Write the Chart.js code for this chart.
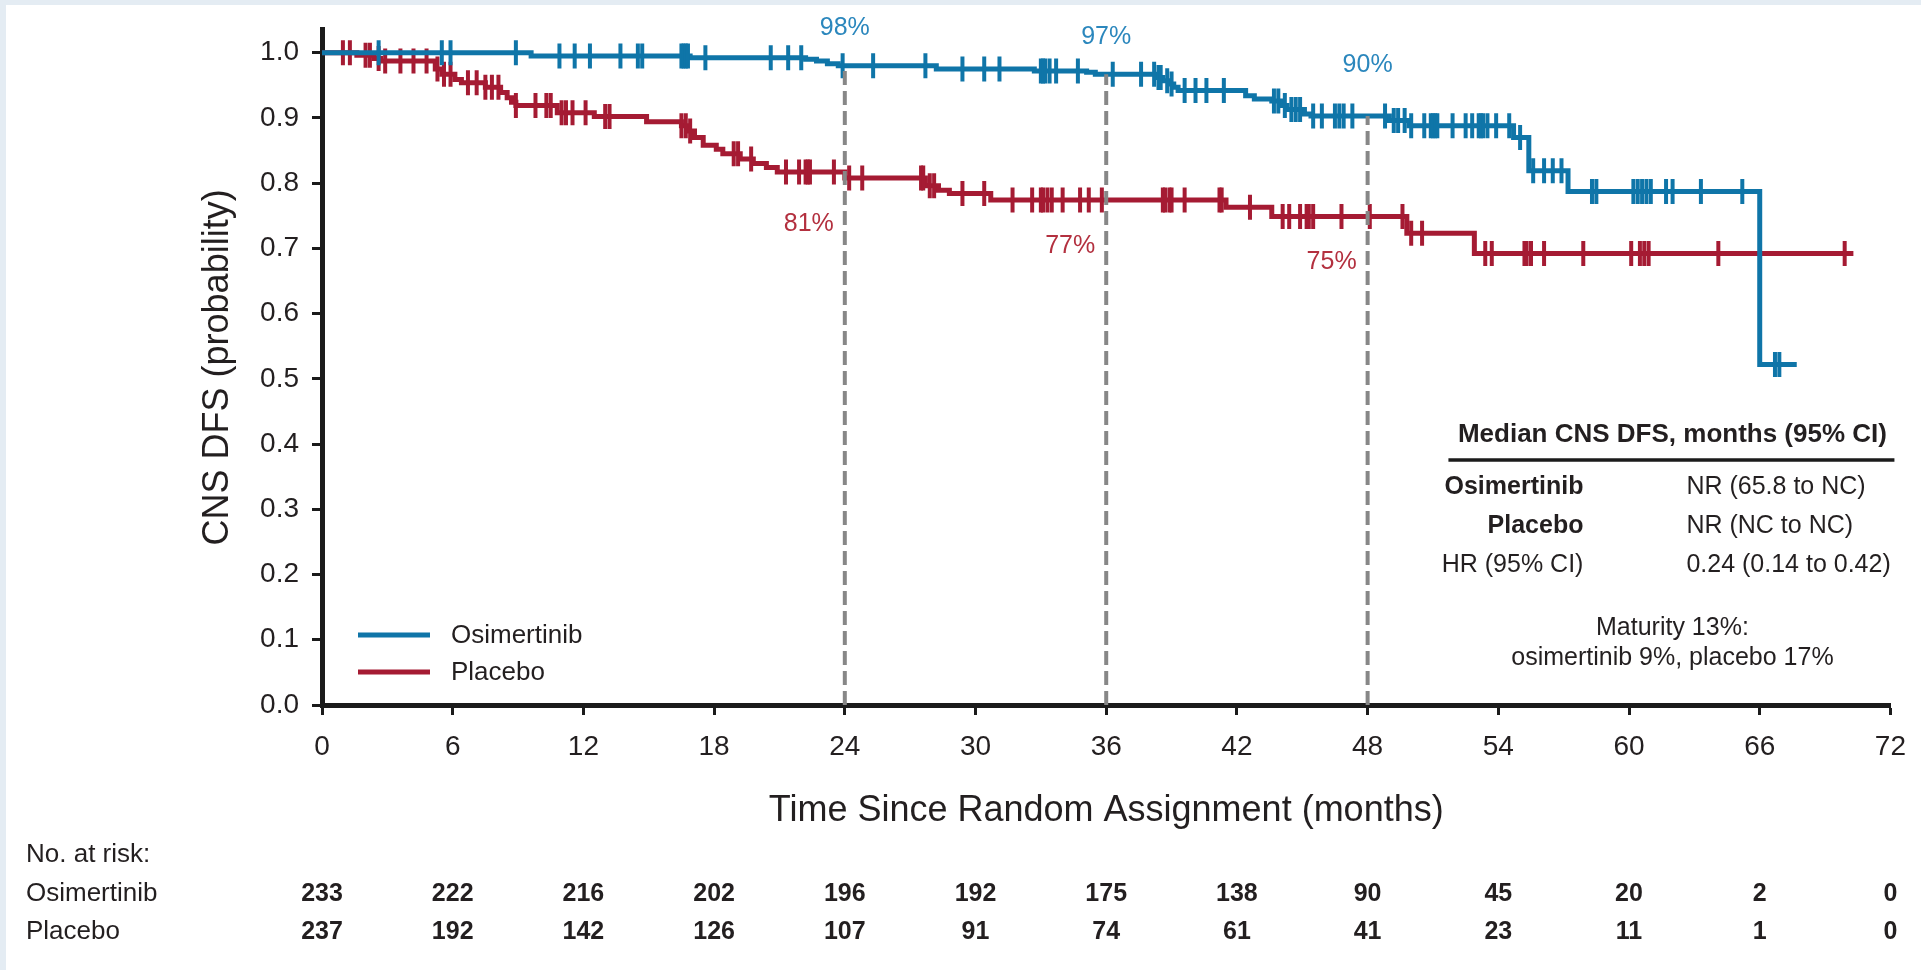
<!DOCTYPE html>
<html>
<head>
<meta charset="utf-8">
<script src="https://cdn.jsdelivr.net/npm/chart.js@4/dist/chart.umd.min.js"></script>
<style>
    html, body { margin: 0; padding: 0; background: #ffffff; overflow: hidden; }
    #km-chart { display: block; }
</style>
</head>
<body>
<canvas id="km-chart" width="1921" height="970" style="width:1921px;height:970px"></canvas>
<script>
// Kaplan-Meier steps: time of each event (months) and survival after it
const osiEventTimes = [9.6, 16.9, 22.2, 22.7, 23.2, 23.7, 28.2, 32.7, 35.1, 35.5, 38.3, 38.6, 38.9, 39.1, 39.3,
    42.4, 42.8, 43.6, 44.0, 44.3, 45.1, 45.4, 49.0, 49.9, 54.7, 55.4, 57.2, 66.0];
const osiSurvival = [0.995, 0.992, 0.990, 0.987, 0.983, 0.980, 0.975, 0.972, 0.970, 0.967, 0.962, 0.957, 0.952, 0.947, 0.942,
    0.934, 0.929, 0.926, 0.919, 0.913, 0.906, 0.903, 0.896, 0.888, 0.870, 0.819, 0.787, 0.522];
const osiLastFollowUp = 67.7;
const osiCensored = [2.6, 5.5, 5.9, 8.9, 10.9, 11.6, 12.3, 13.7, 14.5, 14.7, 16.5, 16.6, 16.7, 16.8, 17.6, 20.6, 21.4,
    22.0, 23.9, 25.3, 27.7, 29.4, 30.4, 31.1, 33.0, 33.1, 33.2, 33.4, 33.7, 34.7, 36.3, 37.6, 38.2, 38.4, 38.5, 38.8,
    39.0, 39.6, 40.1, 40.6, 41.4, 43.7, 43.9, 44.2, 44.5, 44.7, 44.9, 45.5, 45.9, 46.5, 46.7, 46.9, 47.3, 48.8, 49.2,
    49.4, 49.7, 50.0, 50.6, 50.9, 51.0, 51.1, 51.2, 51.9, 52.5, 52.8, 53.1, 53.2, 53.3, 53.5, 53.9, 54.5, 55.0, 55.6,
    56.1, 56.5, 56.9, 58.3, 58.5, 60.2, 60.4, 60.6, 60.8, 61.0, 61.7, 62.0, 63.3, 65.2, 66.7, 66.9];

const pboEventTimes = [1.6, 2.4, 2.7, 5.2, 5.5, 6.1, 6.4, 7.5, 8.2, 8.5, 8.7, 8.9, 10.8, 12.5, 14.9, 16.5, 16.8,
    17.1, 17.5, 18.1, 18.4, 19.2, 19.8, 20.4, 20.9, 24.0, 27.7, 28.3, 28.8, 30.7, 41.5, 43.6, 49.8, 52.9];
const pboSurvival = [0.996, 0.991, 0.987, 0.975, 0.967, 0.959, 0.954, 0.947, 0.939, 0.931, 0.924, 0.919, 0.908, 0.902,
    0.894, 0.888, 0.880, 0.870, 0.858, 0.852, 0.845, 0.837, 0.830, 0.824, 0.817, 0.808, 0.796, 0.789, 0.784, 0.774,
    0.763, 0.749, 0.723, 0.692];
const pboLastFollowUp = 70.3;
const pboCensored = [0.96, 1.28, 2.0, 2.2, 2.6, 2.9, 3.6, 4.2, 4.8, 5.3, 5.6, 5.9, 6.7, 7.1, 7.5, 7.8, 8.1, 8.9, 9.8,
    10.3, 10.5, 11.0, 11.2, 11.5, 12.1, 13.0, 13.2, 16.5, 16.7, 16.9, 18.9, 19.1, 19.7, 21.3, 21.9, 22.2, 22.3, 22.4,
    23.5, 24.2, 24.8, 27.5, 27.6, 27.9, 28.1, 29.4, 30.4, 31.7, 32.6, 33.0, 33.1, 33.3, 33.5, 34.0, 34.8, 35.2, 35.8,
    38.6, 38.7, 38.9, 39.0, 39.6, 41.2, 41.3, 42.6, 44.1, 44.4, 44.9, 45.2, 45.3, 45.5, 46.8, 48.1, 49.6, 50.0, 50.5,
    53.4, 53.7, 55.2, 55.3, 55.5, 56.1, 57.9, 60.1, 60.5, 60.7, 60.9, 64.1, 69.9];

const landmarkMonths = [24, 36, 48];

const riskMonths = [0, 6, 12, 18, 24, 30, 36, 42, 48, 54, 60, 66, 72];
const osiAtRisk = [233, 222, 216, 202, 196, 192, 175, 138, 90, 45, 20, 2, 0];
const pboAtRisk = [237, 192, 142, 126, 107, 91, 74, 61, 41, 23, 11, 1, 0];

const armNames = ['Osimertinib', 'Placebo'];
const medianRows = [
    ['Osimertinib', 'NR (65.8 to NC)'],
    ['Placebo', 'NR (NC to NC)'],
    ['HR (95% CI)', '0.24 (0.14 to 0.42)'],
];

const osiColor = '#0f75a8';
const pboColor = '#a51b33';
const osiLabelColor = '#2b87bd';
const pboLabelColor = '#b3303f';
const axisColor = '#1b1b1b';
const textColor = '#231f20';
const fontFamily = "'Liberation Sans', Arial, Helvetica, sans-serif";

// pixel lift of each osimertinib percentage above its curve
const osiLabelLift = [38, 37, 51];

const survivalAt = function (times, surv, t) {
    let s = 1;
    for (let i = 0; i < times.length; i++) {
        if (times[i] <= t) {
            s = surv[i];
        } else {
            break;
        }
    }
    return s;
}

const stepPoints = function (times, surv, end) {
    const pts = [{ x: 0, y: 1 }];
    times.forEach((t, i) => pts.push({ x: t, y: surv[i] }));
    pts.push({ x: end, y: surv[surv.length - 1] });
    return pts;
}

const censorPoints = function (censored, times, surv) {
    return censored.map(t => ({ x: t, y: survivalAt(times, surv, t) }));
}

const curveDataset = (label, data, color) => ({
    label,
    data,
    borderColor: color,
    borderWidth: 5,
    stepped: true,
    pointRadius: 0,
    fill: false,
});

const censorDataset = (label, data, color) => ({
    label,
    data,
    showLine: false,
    pointStyle: 'line',
    pointRotation: 90,
    pointRadius: 12.5,
    pointBorderWidth: 4,
    pointBorderColor: color,
    pointBackgroundColor: color,
});

// dashed drop lines at the landmark times, from the osimertinib curve down to the axis
const landmarkDatasets = landmarkMonths.map(t => ({
    label: `landmark ${t}`,
    data: [{ x: t, y: 0 }, { x: t, y: survivalAt(osiEventTimes, osiSurvival, t) }],
    borderColor: '#878787',
    borderWidth: 4,
    borderDash: [14, 6],
    pointRadius: 0,
    fill: false,
}));

const font = (size, weight = 'normal') => `${weight} ${size}px ${fontFamily}`;

const decorPlugin = {
    id: 'decor',
    beforeDraw(chart) {
        const c = chart.ctx;
        c.save();
        c.fillStyle = '#e4ecf3';
        c.fillRect(0, 0, chart.width, chart.height);
        c.fillStyle = '#ffffff';
        c.fillRect(6, 5, chart.width - 6, chart.height - 5);
        c.restore();
    },
    afterDraw(chart) {
        const c = chart.ctx;
        const xs = chart.scales.x;
        const ys = chart.scales.y;
        const area = chart.chartArea;
        c.save();
        c.textBaseline = 'middle';

        // landmark percentages
        c.font = font(25);
        landmarkMonths.forEach((t, i) => {
            const x = xs.getPixelForValue(t);
            const so = survivalAt(osiEventTimes, osiSurvival, t);
            const sp = survivalAt(pboEventTimes, pboSurvival, t);
            c.fillStyle = osiLabelColor;
            c.textAlign = 'center';
            c.fillText(`${Math.round(so * 100)}%`, x, ys.getPixelForValue(so) - osiLabelLift[i]);
            c.fillStyle = pboLabelColor;
            c.textAlign = 'right';
            c.fillText(`${Math.round(sp * 100)}%`, x - 11, ys.getPixelForValue(sp) + 46);
        });

        // legend
        const legendColors = [osiColor, pboColor];
        c.font = font(26);
        c.textAlign = 'left';
        armNames.forEach((name, i) => {
            const y = 635 + i * 37;
            c.strokeStyle = legendColors[i];
            c.lineWidth = 5;
            c.beginPath();
            c.moveTo(area.left + 36, y);
            c.lineTo(area.left + 108, y);
            c.stroke();
            c.fillStyle = textColor;
            c.fillText(name, area.left + 129, y + 1);
        });

        // median summary table
        const midX = area.right - 218;
        c.fillStyle = textColor;
        c.font = font(26, 'bold');
        c.textAlign = 'center';
        c.fillText('Median CNS DFS, months (95% CI)', midX, 435);
        c.strokeStyle = axisColor;
        c.lineWidth = 3.5;
        c.beginPath();
        c.moveTo(area.right - 442, 460);
        c.lineTo(area.right + 4, 460);
        c.stroke();
        medianRows.forEach((row, i) => {
            const y = 487 + i * 39;
            c.font = font(25, i < 2 ? 'bold' : 'normal');
            c.textAlign = 'right';
            c.fillText(row[0], area.right - 307, y);
            c.font = font(25);
            c.textAlign = 'left';
            c.fillText(row[1], area.right - 204, y);
        });
        c.font = font(25);
        c.textAlign = 'center';
        c.fillText('Maturity 13%:', midX, 628);
        c.fillText('osimertinib 9%, placebo 17%', midX, 658);

        // numbers at risk
        c.font = font(26);
        c.textAlign = 'left';
        c.fillText('No. at risk:', 26, 855);
        const rows = [osiAtRisk, pboAtRisk];
        armNames.forEach((name, i) => {
            const y = 894 + i * 38;
            c.font = font(26);
            c.textAlign = 'left';
            c.fillText(name, 26, y);
            c.font = font(25, 'bold');
            c.textAlign = 'center';
            riskMonths.forEach((m, j) => {
                c.fillText(String(rows[i][j]), xs.getPixelForValue(m), y);
            });
        });
        c.restore();
    }
};

const kmCanvas = document.querySelector('#km-chart');

const initKmChart = function () {
    Chart.defaults.font.family = fontFamily;
    Chart.defaults.color = textColor;

    return new Chart(kmCanvas, {
        type: 'line',
        data: {
            datasets: [
                ...landmarkDatasets,
                censorDataset('Osimertinib censored', censorPoints(osiCensored, osiEventTimes, osiSurvival), osiColor),
                curveDataset(armNames[0], stepPoints(osiEventTimes, osiSurvival, osiLastFollowUp), osiColor),
                censorDataset('Placebo censored', censorPoints(pboCensored, pboEventTimes, pboSurvival), pboColor),
                curveDataset(armNames[1], stepPoints(pboEventTimes, pboSurvival, pboLastFollowUp), pboColor),
            ]
        },
        options: {
            responsive: false,
            animation: false,
            events: [],
            layout: {
                padding: { left: 196, right: 19, top: 27, bottom: 137 }
            },
            scales: {
                x: {
                    type: 'linear',
                    min: 0,
                    max: 72,
                    ticks: {
                        stepSize: 6,
                        padding: 15,
                        maxRotation: 0,
                        autoSkip: false,
                        font: { size: 28 },
                        color: textColor,
                    },
                    grid: {
                        drawOnChartArea: false,
                        tickLength: 10,
                        tickWidth: 3,
                        tickColor: axisColor,
                    },
                    border: { display: true, width: 5, color: axisColor },
                    title: {
                        display: true,
                        text: 'Time Since Random Assignment (months)',
                        font: { size: 36 },
                        color: textColor,
                        padding: 0,
                    },
                    afterFit: scale => { scale.height = 128; },
                },
                y: {
                    type: 'linear',
                    min: 0,
                    max: 1.035,
                    ticks: {
                        stepSize: 0.1,
                        includeBounds: false,
                        padding: 13,
                        font: { size: 28 },
                        color: textColor,
                        callback: v => v.toFixed(1),
                    },
                    afterBuildTicks: scale => {
                        scale.ticks = scale.ticks.filter(t => t.value <= 1.0001);
                    },
                    grid: {
                        drawOnChartArea: false,
                        tickLength: 10,
                        tickWidth: 3,
                        tickColor: axisColor,
                    },
                    border: { display: true, width: 5, color: axisColor },
                    title: {
                        display: true,
                        text: 'CNS DFS (probability)',
                        font: { size: 36 },
                        color: textColor,
                        padding: 0,
                    },
                    afterFit: scale => { scale.width = 126; },
                }
            },
            plugins: {
                legend: { display: false },
                tooltip: { enabled: false },
            }
        },
        plugins: [decorPlugin]
    });
}

initKmChart();
</script>
</body>
</html>
